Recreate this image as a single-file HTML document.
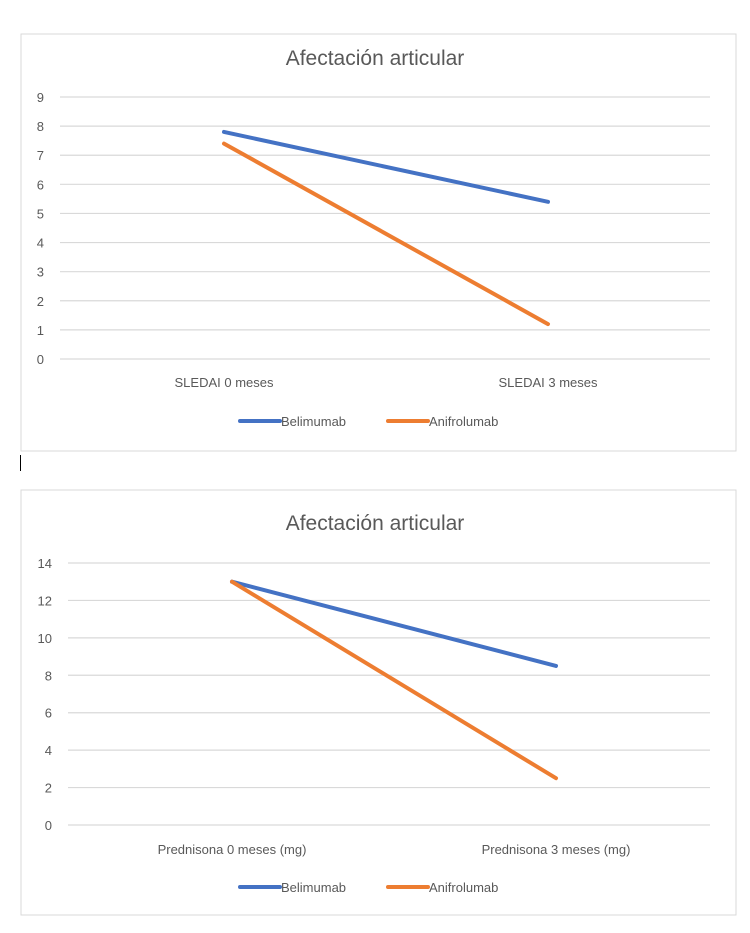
<!DOCTYPE html>
<html><head><meta charset="utf-8"><style>
body{margin:0;background:#fff;width:750px;height:933px;overflow:hidden;font-family:"Liberation Sans",sans-serif}
svg{position:absolute;left:0;top:0}
</style></head><body>
<svg id="s" width="750" height="933"></svg>
<script>
const cats1=["SLEDAI 0 meses","SLEDAI 3 meses"];
const beli1=[7.8,5.4];
const anif1=[7.4,1.2];
const ticks1=[0,1,2,3,4,5,6,7,8,9];
const cats2=["Prednisona 0 meses (mg)","Prednisona 3 meses (mg)"];
const beli2=[13,8.5];
const anif2=[13,2.5];
const ticks2=[0,2,4,6,8,10,12,14];
const NS="http://www.w3.org/2000/svg";
const svg=document.getElementById('s');
function mk(t,a,p){const e=document.createElementNS(NS,t);for(const k in a)e.setAttribute(k,a[k]);(p||svg).appendChild(e);return e;}
function chart(o){
  const g=mk('g',{});
  
  
  const fr=mk('rect',{x:o.bx,y:o.by,width:o.bw,height:o.bh,fill:'#fff',stroke:'#d9d9d9','stroke-width':1},g);
  
  
  const t=mk('text',{x:375,y:o.ty,'text-anchor':'middle','font-size':21,fill:'#595959'},g);t.textContent='Afectación articular';
  
  
  const max=o.ticks[o.ticks.length-1];
  const y=v=>o.y0-(v/max)*(o.y0-o.yTop);
  const x=i=>o.xc[i];
  o.ticks.forEach(v=>{
    const l=mk('line',{x1:o.px0,x2:o.px1,y1:y(v),y2:y(v),stroke:'#d9d9d9','stroke-width':1.2},g);
    
    
    const tx=mk('text',{x:o.lx,y:y(v)+5,'text-anchor':'end','font-size':13,fill:'#595959'},g);tx.textContent=v;
    
    
  });
  o.cats.forEach((c,i)=>{
    const tx=mk('text',{x:x(i),y:o.cy,'text-anchor':'middle','font-size':13,fill:'#595959'},g);tx.textContent=c;
    
    
  });
  [[o.b,'#4472c4','belimumab-line'],[o.a,'#ed7d31','anifrolumab-line']].forEach(([d,col,n])=>{
    const p=mk('polyline',{points:d.map((v,i)=>x(i)+','+y(v)).join(' '),fill:'none',stroke:col,'stroke-width':4,'stroke-linecap':'round'},g);
    
    
  });
  [[240,'#4472c4','Belimumab'],[388,'#ed7d31','Anifrolumab']].forEach(([lx,col,n])=>{
    const l=mk('line',{x1:lx,x2:lx+40,y1:o.ly,y2:o.ly,stroke:col,'stroke-width':4,'stroke-linecap':'round'},g);
    
    
    const tx=mk('text',{x:lx+41,y:o.ly+5,'font-size':13,fill:'#595959'},g);tx.textContent=n;
    
    
  });
}
chart({name:'chart-sledai',bx:21,by:34,bw:715,bh:417,ty:65,ticks:ticks1,y0:359,yTop:97,px0:60,px1:710,lx:44,xc:[224,548],cats:cats1,cy:387,b:beli1,a:anif1,ly:421});
chart({name:'chart-prednisona',bx:21,by:490,bw:715,bh:425,ty:530,ticks:ticks2,y0:825,yTop:563,px0:68,px1:710,lx:52,xc:[232,556],cats:cats2,cy:854,b:beli2,a:anif2,ly:887});
const c=mk('line',{x1:20.5,x2:20.5,y1:455,y2:471,stroke:'#000','stroke-width':1});


</script>
</body></html>
